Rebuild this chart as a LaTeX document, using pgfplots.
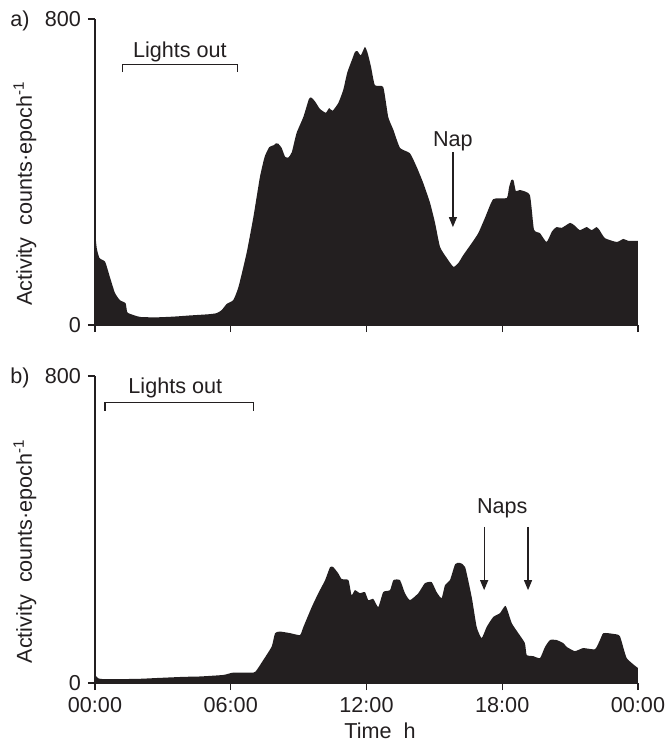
\documentclass[border=0pt]{standalone}
\usepackage{fontspec}
\setmainfont{Liberation Sans}
\usepackage{pgfplots}
\pgfplotsset{compat=1.18}
\usetikzlibrary{arrows.meta}
\definecolor{ink}{RGB}{35,31,32}
\newcommand{\fs}{\fontsize{10.8}{13}\selectfont}

\pgfplotsset{actplot/.style={
  scale only axis, width=271.5pt, height=153pt,
  xmin=0, xmax=24, ymin=0, ymax=800,
  axis x line*=bottom, axis y line*=left,
  axis line style={ink, line width=0.6pt, -},
  xtick={0,6,12,18,24}, ytick={0,800},
  tick align=outside, major tick length=3.5pt,
  tick style={ink, line width=0.6pt},
  /pgf/number format/assume math mode=true,
  tick label style={font=\fs, text=ink},
  axis on top, clip=false,
}}

\begin{document}
\begin{tikzpicture}
% panel a
\begin{axis}[actplot, at={(0,0)}, anchor=south west, xticklabels=\empty]
\addplot[fill=ink, draw=none, smooth, tension=0.3] coordinates {
 (0,245) (0.08,200) (0.2,175) (0.45,165) (0.66,125) (0.88,84) (1.1,65)
 (1.35,57) (1.43,33) (1.7,26) (2.0,21) (2.7,20) (3.5,22) (4.2,25) (5.0,28)
 (5.38,31) (5.6,39) (5.82,55) (6.11,65) (6.34,99) (6.7,188) (7.0,282)
 (7.29,387) (7.5,440) (7.7,465) (7.9,470) (8.0,475) (8.1,474) (8.25,463)
 (8.4,440) (8.55,438) (8.7,452) (8.91,502) (9.21,544) (9.45,590) (9.55,595)
 (9.72,585) (9.94,565) (10.2,555) (10.35,567) (10.5,560) (10.75,580)
 (10.97,614) (11.15,660) (11.4,700) (11.49,714) (11.6,716) (11.75,705)
 (11.93,727) (12.05,711) (12.2,675) (12.37,627) (12.74,622) (12.96,544)
 (13.19,510) (13.48,463) (13.92,449) (14.22,413) (14.51,371) (14.81,319)
 (15.03,267) (15.25,204) (15.55,175) (15.84,152) (16.06,162) (16.28,183)
 (16.65,214) (16.94,240) (17.25,282) (17.6,329) (18.2,332) (18.3,360)
 (18.4,379) (18.5,378) (18.6,350) (18.78,353) (19.22,340) (19.4,250)
 (19.67,240) (19.96,217) (20.2,245) (20.4,256) (20.63,254) (21.0,267)
 (21.2,260) (21.43,248) (21.73,256) (21.95,248) (22.17,256) (22.3,248)
 (22.54,227) (23.06,217) (23.35,225) (23.57,220) (24.0,220)
} \closedcycle;
\draw[ink, line width=0.6pt] (axis cs:1.2,661) |- (axis cs:6.3,682) -- (axis cs:6.3,661);
\node[font=\fs, text=ink] at (axis cs:3.75,714) {Lights out};
\node[font=\fs, text=ink] at (axis cs:15.82,481) {Nap};
\draw[ink, line width=0.6pt, -{Triangle[length=5pt,width=4pt]}] (axis cs:15.82,452) -- (axis cs:15.82,256);
\node[font=\fs, text=ink, anchor=base] at (rel axis cs:-0.138,1) [yshift=-3.8pt] {a)};
\node[font=\fs, text=ink, rotate=90] at (rel axis cs:-0.129,0.43) {Activity\ \ counts·epoch\textsuperscript{-1}};
\end{axis}
% panel b
\begin{axis}[actplot, at={(0,-179pt)}, anchor=south west, height=153.5pt,
  xticklabels={00:00,06:00,12:00,18:00,00:00}]
\addplot[fill=ink, draw=none, smooth, tension=0.3] coordinates {
 (0,21) (0.15,12) (0.4,10) (1.0,10) (2.0,11) (2.73,13) (3.9,16) (4.64,17)
 (5.67,21) (6.11,27) (7.0,27) (7.15,34) (7.44,60) (7.81,95) (7.96,130)
 (8.18,134) (8.62,130) (9.06,125) (9.21,146) (9.58,198) (9.87,234)
 (10.17,268) (10.39,302) (10.53,302) (10.75,286) (10.9,271) (11.2,268)
 (11.34,229) (11.49,242) (11.71,234) (11.93,237) (12.08,216) (12.3,219)
 (12.52,198) (12.74,237) (13.04,242) (13.19,268) (13.48,268) (13.70,234)
 (13.92,216) (14.29,234) (14.58,260) (14.88,263) (15.10,237) (15.32,221)
 (15.47,255) (15.69,268) (15.92,310) (16.13,313) (16.36,302) (16.65,224)
 (16.87,146) (17.09,117) (17.31,146) (17.6,172) (17.9,182) (18.15,201)
 (18.42,156) (18.71,130) (19.0,104) (19.08,73) (19.37,70) (19.67,65)
 (19.89,94) (20.11,112) (20.4,112) (20.7,104) (20.85,94) (21.21,83)
 (21.58,91) (22.1,88) (22.32,112) (22.47,130) (22.91,128) (23.2,122)
 (23.5,65) (24.0,39)
} \closedcycle;
\draw[ink, line width=0.6pt] (axis cs:0.44,709) |- (axis cs:7.0,732) -- (axis cs:7.0,709);
\node[font=\fs, text=ink] at (axis cs:3.55,769) {Lights out};
\node[font=\fs, text=ink] at (axis cs:18.0,456) {Naps};
\draw[ink, line width=0.6pt, -{Triangle[length=5pt,width=4pt]}] (axis cs:17.2,407) -- (axis cs:17.2,242);
\draw[ink, line width=0.6pt, -{Triangle[length=5pt,width=4pt]}] (axis cs:19.14,407) -- (axis cs:19.14,242);
\node[font=\fs, text=ink, anchor=base] at (rel axis cs:-0.138,1) [yshift=-3.8pt] {b)};
\node[font=\fs, text=ink, rotate=90] at (rel axis cs:-0.129,0.43) {Activity\ \ counts·epoch\textsuperscript{-1}};
\node[font=\fs, text=ink, anchor=base] at (rel axis cs:0.525,0) [yshift=-27.5pt] {Time\ \ h};
\end{axis}
\pgfresetboundingbox
\path[use as bounding box] (-47.5pt,-207.5pt) rectangle (287pt,162.5pt);
\end{tikzpicture}
\end{document}
